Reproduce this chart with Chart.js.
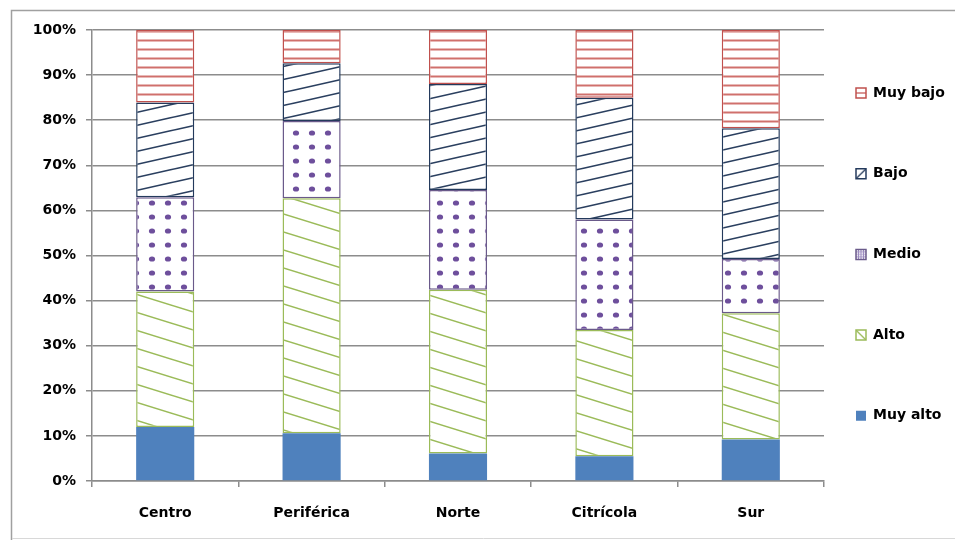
<!DOCTYPE html>
<html lang="es">
<head>
<meta charset="utf-8">
<title>Distribución por zonas</title>
<script src="https://cdn.jsdelivr.net/npm/chart.js@4.4.1/dist/chart.umd.min.js"></script>
<style>
  html, body { margin: 0; padding: 0; background: #ffffff; overflow: hidden; }
  canvas { display: block; }
</style>
</head>
<body>
<canvas id="chart" width="955" height="540"></canvas>
<script>
// Zonas y niveles (porcentaje de cada nivel dentro de la zona)
const categories = ['Centro', 'Periférica', 'Norte', 'Citrícola', 'Sur'];
const seriesNames = ['Muy alto', 'Alto', 'Medio', 'Bajo', 'Muy bajo'];
const muyAlto = [12.0, 10.6, 6.1, 5.5, 9.2];
const alto    = [30.0, 52.1, 36.3, 28.0, 28.0];
const medio   = [20.9, 17.1, 22.1, 24.5, 12.0];
const bajo    = [21.0, 12.8, 23.5, 27.0, 29.0];
const muyBajo = [16.1, 7.4, 12.0, 15.0, 21.8];
const yTickStep = 10;
const yMax = 100;

const canvas = document.getElementById('chart');
const mainCtx = canvas.getContext('2d');

// Small repeating tiles used as bar fills
function makeTile(w, h, draw, tx, ty) {
  const c = document.createElement('canvas');
  c.width = w; c.height = h;
  const g = c.getContext('2d');
  g.fillStyle = '#ffffff';
  g.fillRect(0, 0, w, h);
  draw(g, w, h);
  const p = mainCtx.createPattern(c, 'repeat');
  if (tx !== undefined && p.setTransform) {
    p.setTransform(new DOMMatrix([1, 0, 0, 1, tx, ty]));
  }
  return p;
}

function hatchLines(g, w, h, rising) {
  for (let k = -2; k <= 2; k++) {
    g.beginPath();
    if (rising) { g.moveTo(-w, 2 * h + k * h); g.lineTo(2 * w, -h + k * h); }
    else        { g.moveTo(-w, -h + k * h);    g.lineTo(2 * w, 2 * h + k * h); }
    g.stroke();
  }
}

function hatch(w, h, color, lw, rising) {
  return makeTile(w, h, (g) => {
    g.strokeStyle = color;
    g.lineWidth = lw;
    hatchLines(g, w, h, rising);
  });
}

const horizontalStripes = makeTile(8, 9, (g, w) => {
  g.strokeStyle = '#d0706c';
  g.lineWidth = 2;
  g.beginPath(); g.moveTo(0, 4.5); g.lineTo(w, 4.5); g.stroke();
});

const dots = makeTile(16, 14, (g) => {
  g.fillStyle = '#6e4f9c';
  g.beginPath(); g.ellipse(8, 7, 3.1, 2.6, 0, 0, Math.PI * 2); g.fill();
});

const risingHatch = hatch(58, 13, '#2a3f5f', 1.6, true);
const fallingHatch = hatch(58, 18, '#9bbb59', 1.5, false);

const gridColor = '#8c8c8c';

// Legend geometry
const LEGEND_X = 856;
const LEGEND_Y = 86;
const LEGEND_PAD = 66.7;
const LEGEND_FONT = 14;
const LEGEND_BOX = 10;

// Fills for the small legend boxes, aligned to each box
function legendFill(datasetIndex) {
  const slot = seriesNames.length - 1 - datasetIndex;
  const x = LEGEND_X;
  const y = LEGEND_Y + (LEGEND_FONT - LEGEND_BOX) / 2 + slot * (LEGEND_FONT + LEGEND_PAD);
  const s = LEGEND_BOX;
  switch (datasetIndex) {
    case 1: return makeTile(s, s, (g) => {
      g.strokeStyle = '#9bbb59'; g.lineWidth = 1.3;
      g.beginPath(); g.moveTo(0, 0); g.lineTo(s, s); g.stroke();
    }, x, y);
    case 2: return makeTile(s, s, (g) => {
      g.strokeStyle = '#9d8cc0'; g.lineWidth = 1;
      for (let t = 2.5; t < s; t += 2.5) {
        g.beginPath(); g.moveTo(t, 0); g.lineTo(t, s); g.stroke();
        g.beginPath(); g.moveTo(0, t); g.lineTo(s, t); g.stroke();
      }
    }, x, y);
    case 3: return makeTile(s, s, (g) => {
      g.strokeStyle = '#2a3f5f'; g.lineWidth = 1.3;
      g.beginPath(); g.moveTo(0, s); g.lineTo(s, 0); g.stroke();
    }, x, y);
    case 4: return makeTile(s, s, (g) => {
      g.strokeStyle = '#c0504d'; g.lineWidth = 1.2;
      g.beginPath(); g.moveTo(0, s / 2); g.lineTo(s, s / 2); g.stroke();
    }, x, y);
    default: return '#4f81bd';
  }
}

// Outer frame of the chart object: top and left edges, faint bottom edge
const framePlugin = {
  id: 'frame',
  beforeDraw(chart) {
    const ctx = chart.ctx;
    ctx.save();
    ctx.strokeStyle = '#a0a0a0';
    ctx.lineWidth = 1.5;
    ctx.beginPath();
    ctx.moveTo(955, 10.5);
    ctx.lineTo(11.5, 10.5);
    ctx.lineTo(11.5, 540);
    ctx.stroke();
    ctx.strokeStyle = '#d8d8d8';
    ctx.lineWidth = 1;
    ctx.beginPath();
    ctx.moveTo(12, 538.5);
    ctx.lineTo(955, 538.5);
    ctx.stroke();
    ctx.restore();
  }
};

// Places the legend column next to the plot
const legendPlace = {
  id: 'legendPlace',
  afterLayout(chart) {
    const lg = chart.legend;
    if (!lg || !lg.columnSizes || !lg.columnSizes.length) return;
    const pad = lg.options.labels.padding;
    lg.left = LEGEND_X - pad;
    lg.right = chart.width;
    lg.width = lg.right - lg.left;
    const colH = lg.columnSizes[0].height;
    const y0 = (lg.top + pad + lg.bottom - colH) / 2;
    const dy = LEGEND_Y - y0;
    lg.top += dy;
    lg.bottom += dy;
  }
};

Chart.defaults.font.family = "'DejaVu Sans', sans-serif";
Chart.defaults.font.weight = 'bold';
Chart.defaults.font.size = 14;
Chart.defaults.color = '#000000';

new Chart(canvas, {
  type: 'bar',
  data: {
    labels: categories,
    datasets: [
      { label: seriesNames[0], data: muyAlto, backgroundColor: '#4f81bd', borderWidth: 0 },
      { label: seriesNames[1], data: alto, backgroundColor: fallingHatch, borderColor: '#9bbb59', borderWidth: 1.5 },
      { label: seriesNames[2], data: medio, backgroundColor: dots, borderColor: '#6a5a8a', borderWidth: 1.5 },
      { label: seriesNames[3], data: bajo, backgroundColor: risingHatch, borderColor: '#243a5c', borderWidth: 1.5 },
      { label: seriesNames[4], data: muyBajo, backgroundColor: horizontalStripes, borderColor: '#c0504d', borderWidth: 1.5 }
    ]
  },
  options: {
    responsive: false,
    animation: false,
    devicePixelRatio: 1,
    layout: { padding: { top: 30, left: 0, right: 0, bottom: 0 } },
    datasets: {
      bar: { categoryPercentage: 1.0, barPercentage: 0.397, borderSkipped: false }
    },
    scales: {
      x: {
        stacked: true,
        afterFit(scale) { scale.height = 59; },
        grid: { display: true, drawOnChartArea: false, drawTicks: true, tickLength: 6, color: gridColor, lineWidth: 1.5, offset: true },
        border: { display: true, color: gridColor, width: 1.5 },
        ticks: { padding: 18, font: { size: 14, weight: 'bold' }, color: '#000' }
      },
      y: {
        stacked: true,
        min: 0,
        max: yMax,
        afterFit(scale) { scale.width = 92; },
        grid: { color: gridColor, lineWidth: 1.5, tickLength: 6 },
        border: { display: true, color: gridColor, width: 1.5 },
        ticks: {
          stepSize: yTickStep,
          padding: 10,
          font: { size: 14, weight: 'bold' },
          color: '#000',
          callback: (v) => v + '%'
        }
      }
    },
    plugins: {
      legend: {
        position: 'right',
        reverse: true,
        maxWidth: 131,
        labels: {
          boxWidth: LEGEND_BOX,
          boxHeight: LEGEND_BOX,
          padding: LEGEND_PAD,
          font: { size: LEGEND_FONT, weight: 'bold' },
          color: '#000',
          generateLabels(chart) {
            const items = Chart.defaults.plugins.legend.labels.generateLabels(chart);
            items.forEach((it) => { it.fillStyle = legendFill(it.datasetIndex); });
            return items;
          }
        }
      },
      tooltip: { enabled: false },
      title: { display: false }
    }
  },
  plugins: [framePlugin, legendPlace]
});
</script>
</body>
</html>
